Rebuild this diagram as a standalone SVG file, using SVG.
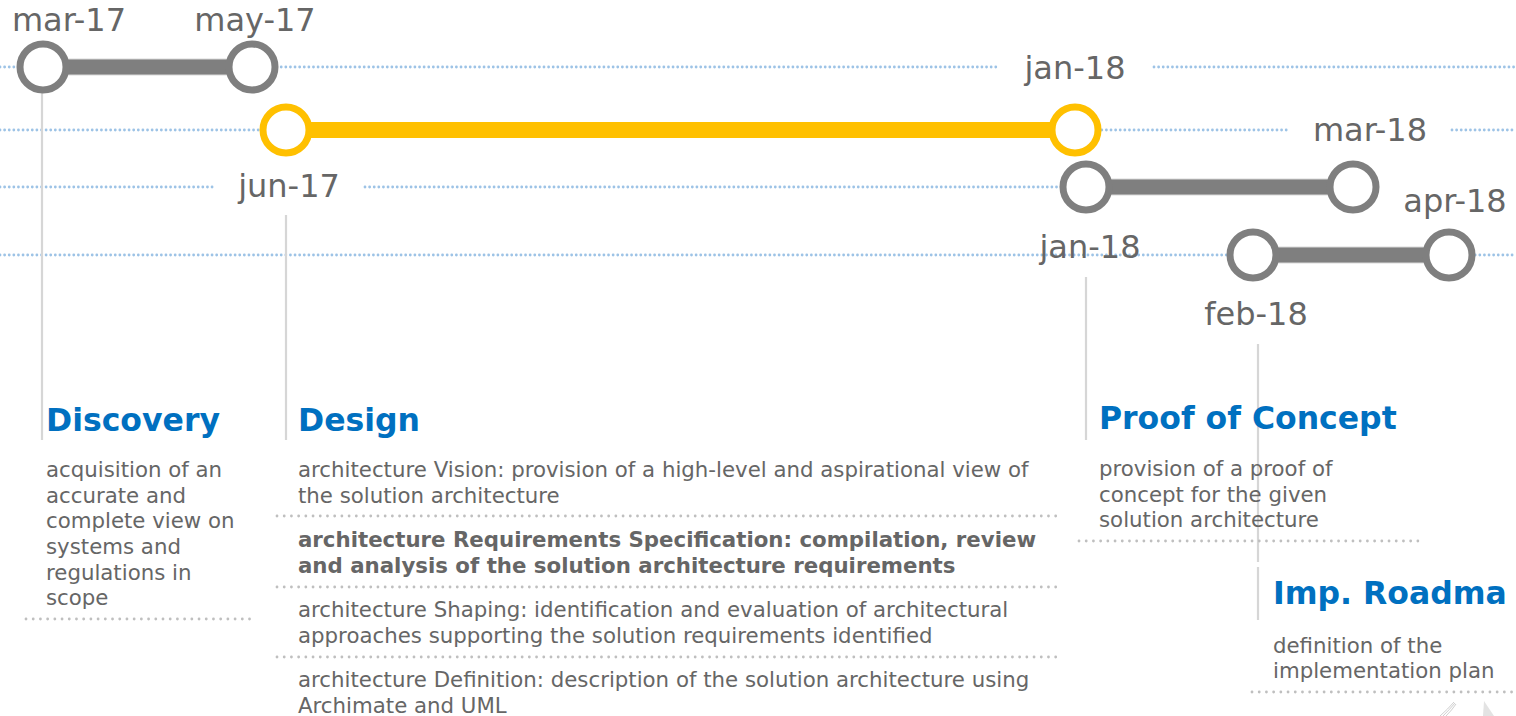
<svg xmlns="http://www.w3.org/2000/svg" width="1516" height="716" viewBox="0 0 1516 716">
  <style>
    .bg { fill: #ffffff; }
    .track { stroke: #9DC3E6; stroke-width: 2.8; stroke-linecap: round; stroke-dasharray: 0.01 4.6; fill: none; }
    .sep { stroke: #BFBFBF; stroke-width: 2.8; stroke-linecap: round; stroke-dasharray: 0.01 7.2; fill: none; }
    .vline { stroke: #D6D6D6; stroke-width: 2.2; fill: none; }
    .bar-grey { stroke: #7F7F7F; stroke-width: 15; fill: none; }
    .bar-grey-edge { stroke: #D9D9D9; stroke-width: 17; fill: none; }
    .bar-yellow { stroke: #FFC000; stroke-width: 16; fill: none; }
    .ms-grey { fill: #ffffff; stroke: #7F7F7F; stroke-width: 7; }
    .ms-yellow { fill: #ffffff; stroke: #FFC000; stroke-width: 7; }
    .date { font-family: "DejaVu Sans", Verdana, sans-serif; font-size: 32px; fill: #666666; text-anchor: middle; }
    .head { font-family: "DejaVu Sans", Verdana, sans-serif; font-size: 31.5px; font-weight: bold; fill: #0070C0; }
    .body { font-family: "DejaVu Sans", Verdana, sans-serif; font-size: 21.3px; fill: #666666; }
    .bold { font-weight: bold; }
    .logo { stroke: #D0D0D0; stroke-width: 1; fill: none; }
  </style>
  <rect class="bg" x="0" y="0" width="1516" height="716"/>

  <!-- timeline tracks -->
  <g id="tracks">
    <line class="track" x1="0" y1="67" x2="1000" y2="67"/>
    <line class="track" x1="1154" y1="67" x2="1516" y2="67"/>
    <line class="track" x1="0" y1="130" x2="1290" y2="130"/>
    <line class="track" x1="1452" y1="130" x2="1516" y2="130"/>
    <line class="track" x1="0" y1="187" x2="215" y2="187"/>
    <line class="track" x1="365" y1="187" x2="1086" y2="187"/>
    <line class="track" x1="0" y1="255" x2="1516" y2="255"/>
  </g>

  <!-- connectors: bars and leader lines -->
  <g id="connectors">
    <line class="bar-grey-edge" x1="43" y1="67" x2="252" y2="67"/>
    <line class="bar-grey" x1="43" y1="67" x2="252" y2="67"/>
    <line class="bar-yellow" x1="286" y1="130" x2="1075" y2="130"/>
    <line class="bar-grey-edge" x1="1086" y1="187" x2="1353" y2="187"/>
    <line class="bar-grey" x1="1086" y1="187" x2="1353" y2="187"/>
    <line class="bar-grey-edge" x1="1253" y1="255" x2="1449" y2="255"/>
    <line class="bar-grey" x1="1253" y1="255" x2="1449" y2="255"/>
    <line class="vline" x1="42" y1="92" x2="42" y2="440"/>
    <line class="vline" x1="286" y1="215" x2="286" y2="440"/>
    <line class="vline" x1="1086" y1="277" x2="1086" y2="440"/>
    <line class="vline" x1="1258" y1="344" x2="1258" y2="562"/>
    <line class="vline" x1="1258" y1="567" x2="1258" y2="620"/>
  </g>

  <!-- milestones -->
  <g id="ms-mar17">
    <circle class="ms-grey" cx="43" cy="67" r="23"/>
    <text class="date" x="69" y="31">mar-17</text>
  </g>
  <g id="ms-may17">
    <circle class="ms-grey" cx="252" cy="67" r="23"/>
    <text class="date" x="255" y="31">may-17</text>
  </g>
  <g id="ms-jun17">
    <circle class="ms-yellow" cx="286" cy="130" r="23"/>
    <text class="date" x="289" y="197">jun-17</text>
  </g>
  <g id="ms-jan18-design">
    <circle class="ms-yellow" cx="1075" cy="130" r="23"/>
    <text class="date" x="1075" y="79">jan-18</text>
  </g>
  <g id="ms-jan18-poc">
    <circle class="ms-grey" cx="1086" cy="187" r="23"/>
    <text class="date" x="1090" y="258">jan-18</text>
  </g>
  <g id="ms-mar18">
    <circle class="ms-grey" cx="1353" cy="187" r="23"/>
    <text class="date" x="1370" y="141">mar-18</text>
  </g>
  <g id="ms-feb18">
    <circle class="ms-grey" cx="1253" cy="255" r="23"/>
    <text class="date" x="1256" y="325">feb-18</text>
  </g>
  <g id="ms-apr18">
    <circle class="ms-grey" cx="1449" cy="255" r="23"/>
    <text class="date" x="1455" y="212">apr-18</text>
  </g>

  <!-- phases -->
  <g id="phase-discovery">
    <text class="head" x="46" y="431">Discovery</text>
    <text class="body" x="46" y="477">acquisition of an</text>
    <text class="body" x="46" y="503">accurate and</text>
    <text class="body" x="46" y="528">complete view on</text>
    <text class="body" x="46" y="554">systems and</text>
    <text class="body" x="46" y="580">regulations in</text>
    <text class="body" x="46" y="605">scope</text>
    <line class="sep" x1="26" y1="619" x2="252" y2="619"/>
  </g>

  <g id="phase-design">
    <text class="head" x="298" y="431">Design</text>
    <text class="body" x="298" y="477">architecture Vision: provision of a high-level and aspirational view of</text>
    <text class="body" x="298" y="503">the solution architecture</text>
    <line class="sep" x1="277" y1="516" x2="1060" y2="516"/>
    <text class="body bold" x="298" y="547">architecture Requirements Specification: compilation, review</text>
    <text class="body bold" x="298" y="573">and analysis of the solution architecture requirements</text>
    <line class="sep" x1="277" y1="587" x2="1060" y2="587"/>
    <text class="body" x="298" y="617">architecture Shaping: identification and evaluation of architectural</text>
    <text class="body" x="298" y="643">approaches supporting the solution requirements identified</text>
    <line class="sep" x1="277" y1="657" x2="1060" y2="657"/>
    <text class="body" x="298" y="687">architecture Definition: description of the solution architecture using</text>
    <text class="body" x="298" y="713">Archimate and UML</text>
  </g>

  <g id="phase-poc">
    <text class="head" x="1099" y="429">Proof of Concept</text>
    <text class="body" x="1099" y="476">provision of a proof of</text>
    <text class="body" x="1099" y="502">concept for the given</text>
    <text class="body" x="1099" y="527">solution architecture</text>
    <line class="sep" x1="1079" y1="541" x2="1422" y2="541"/>
  </g>

  <g id="phase-roadmap">
    <text class="head" x="1273" y="604">Imp. Roadma</text>
    <text class="body" x="1273" y="653">definition of the</text>
    <text class="body" x="1273" y="678">implementation plan</text>
    <line class="sep" x1="1252" y1="692" x2="1516" y2="692"/>
  </g>

  <!-- faint logo fragment at bottom right -->
  <g id="logo-fragment">
    <path class="logo" d="M1440 716 Q1448 709 1454 702"/>
    <path class="logo" d="M1443 716 Q1450 709 1455 703"/>
    <path class="logo" d="M1446 716 Q1452 710 1456 704"/>
    <path d="M1483 716 L1484 701 L1494 716 Z" fill="#E3E3E3"/>
  </g>
</svg>
